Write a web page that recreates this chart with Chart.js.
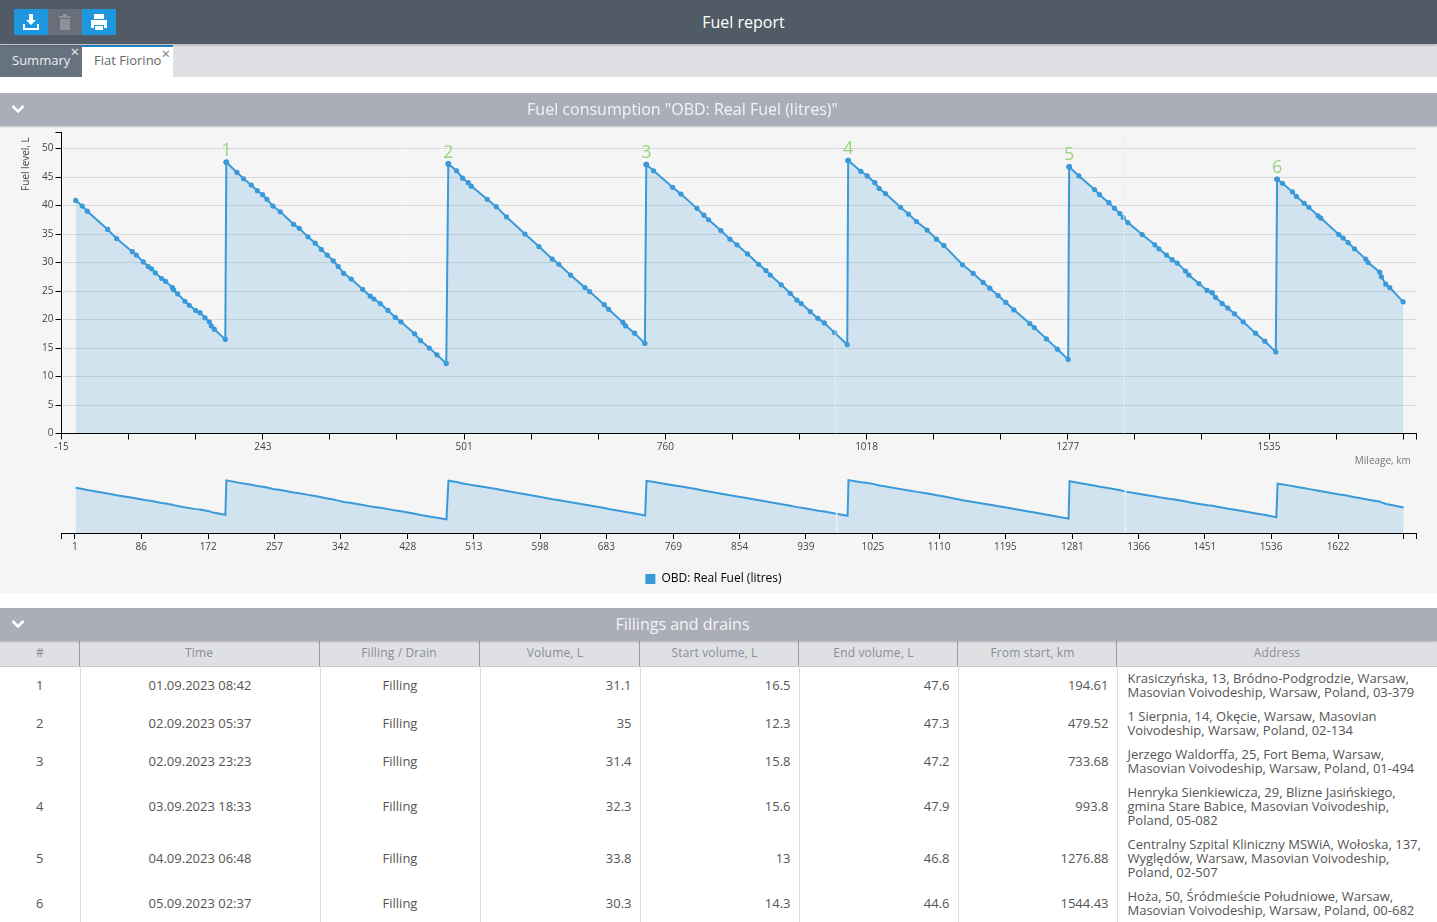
<!DOCTYPE html>
<html>
<head>
<meta charset="utf-8">
<title>Fuel report</title>
<script src="https://cdn.jsdelivr.net/npm/chart.js@4/dist/chart.umd.min.js"></script>
<style>
  html, body { margin: 0; padding: 0; width: 1437px; height: 922px; overflow: hidden; background: #fff; font-family: "Open Sans", sans-serif; }
  .topbar { position: absolute; left: 0; top: 0; width: 1437px; height: 44px; box-sizing: border-box; padding-left: 50px; background: #505b66; color: #fff; font-size: 16px; line-height: 44px; text-align: center; box-shadow: 0 1px 2px rgba(0,0,0,.35); z-index: 2; }
  .btn { position: absolute; top: 9px; width: 34px; height: 26px; background: #1f97de; }
  .btn svg { position: absolute; left: 8px; top: 4px; }
  .tabs { position: absolute; left: 0; top: 45px; width: 1437px; height: 32px; background: #dfe0e3; }
  .tab { position: absolute; top: 0; height: 32px; font-size: 13px; line-height: 31px; box-sizing: border-box; padding-left: 12px; }
  .tab.off { left: 0; width: 82px; background: #677280; color: #eceef0; }
  .tab.on { left: 82px; width: 91px; background: #fff; color: #666; border-top: 2px solid #1f88cf; line-height: 26px; }
  .tab i { position: absolute; right: 3px; top: -1px; font: 15px/15px "Open Sans", sans-serif; }
  .tab.on i { top: -1px; color: #777; }
  .bar { position: absolute; left: 0; width: 1437px; height: 33px; box-sizing: border-box; padding-right: 72px; background: #abaeb8; color: #f4f4f6; font-size: 16px; line-height: 32px; text-align: center; box-shadow: 0 1px 2px rgba(0,0,0,.2); z-index: 1; }
  .bar svg { position: absolute; left: 11px; top: 11px; }
  .panel { position: absolute; left: 0; top: 126px; width: 1437px; height: 467px; background: #f5f5f5; }
  canvas { position: absolute; left: 0; }
  table { position: absolute; left: 0; top: 640px; width: 1437px; table-layout: fixed; border-collapse: collapse; font-size: 13px; line-height: 14px; color: #555; }
  tr.head { background: #dfe0e3; box-shadow: 0 1px 0 #c9cace; }
  th { position: relative; left: -1px; height: 26px; padding: 0 0 1px; color: #8a8d95; font-weight: 400; font-size: 12px; letter-spacing: .15px; box-sizing: border-box; }
  th::after { content: ''; position: absolute; right: -1px; top: 0; bottom: 0; width: 1px; background: #9a9da6; }
  th.num { padding-right: 8px; }
  th:first-child { padding-left: 2px; }
  th:last-child { left: 0; padding-right: 0; }
  th:last-child::after { display: none; }
  td { padding: 5px 8px; text-align: center; border-right: 1px solid #dcdcdc; white-space: pre-line; }
  td.num { text-align: right; }
  td.addr { text-align: left; padding-left: 10px; padding-right: 4px; border-right: 0; }
</style>
</head>
<body>
<div class="panel"></div>
<div class="topbar">Fuel report
  <div class="btn" style="left:14px"><svg width="18" height="18" viewBox="0 0 18 18" fill="#fff"><path d="M7 1h4v6h3l-5 5-5-5h3z"/><path d="M1 11h2v4h12v-4h2v6H1z"/></svg></div>
  <div class="btn" style="left:48px;background:#686f7a"><svg width="18" height="18" viewBox="0 0 18 18" fill="#8d929a"><path d="M3 3h12v2H3zM7 1h4v2H7zM4 6h10v11H4z"/></svg></div>
  <div class="btn" style="left:82px"><svg width="18" height="18" viewBox="0 0 18 18" fill="#fff"><path d="M4 1h10v5H4zM1 7h16v8h-3v-3H4v3H1zM5 13h8v4H5z"/></svg></div>
</div>
<div class="tabs">
  <div class="tab off">Summary<i>×</i></div>
  <div class="tab on">Fiat Fiorino<i>×</i></div>
</div>
<canvas id="mainChart" style="top:124px;width:1437px;height:343px"></canvas>
<canvas id="overviewChart" style="top:467px;width:1437px;height:128px"></canvas>
<div class="bar" style="top:93px"><svg width="14" height="10" viewBox="0 0 14 10"><path d="M1.5 2 7 7.5 12.5 2" fill="none" stroke="#fff" stroke-width="2.6"/></svg>Fuel consumption "OBD: Real Fuel (litres)"</div>
<table id="fillTable"></table>
<div class="bar" style="top:608px"><svg width="14" height="10" viewBox="0 0 14 10"><path d="M1.5 2 7 7.5 12.5 2" fill="none" stroke="#fff" stroke-width="2.6"/></svg>Fillings and drains</div>

<script>
const seriesName = 'OBD: Real Fuel (litres)';

const mileage = [
  3.2, 11.7, 18.1, 44.3, 55.8, 75.9, 81.1, 90, 96.5, 100.7, 105.4, 113.6, 118.7, 127.3, 129, 134.1, 143.5, 149.1, 157.2, 162.8, 169.2, 174.8, 177.3, 181.2, 195.3,
  196.6, 210.3, 218.8, 228.7, 236.4, 243.2, 248.8, 256.5, 265.9, 283, 290.3, 301.4, 310.8, 318.5, 326.2, 333.9, 340.3, 347.2, 357, 371.6, 381.4, 386.1, 394.3, 404.1, 413.5, 420.8, 438.3, 446, 457.2, 467, 479,
  481.6, 492.3, 500, 507.2, 511.1, 531.6, 543.2, 556.4, 580, 598, 615.1, 623.6, 638.6, 657, 663, 681.8, 687.4, 705.8, 709.2, 720.8, 734,
  735.8, 745.2, 769.6, 780.3, 800.8, 809.8, 815.8, 831.6, 843.2, 852.2, 865.8, 880, 889.4, 895, 909.1, 920.6, 929.2, 934.7, 946.3, 956.1, 964.3, 977.5, 993.8,
  995, 1011.2, 1019.4, 1029.2, 1034.8, 1042.9, 1062.2, 1072.4, 1082.7, 1096.4, 1108.4, 1117.8, 1141.8, 1155.4, 1168.3, 1176.8, 1187.5, 1197.4, 1207.7, 1228.2, 1233.8, 1249.6, 1263.7, 1277.4,
  1278.7, 1291.2, 1311.3, 1317.7, 1329.7, 1336.9, 1343.8, 1348.1, 1354.1, 1372.5, 1388.7, 1393.9, 1403.7, 1411, 1417.4, 1428.1, 1432.4, 1445.2, 1455.9, 1462.3, 1466.6, 1475.2, 1482.4, 1491, 1502.1, 1518, 1529.9, 1544,
  1545.7, 1552.6, 1565.4, 1570.5, 1580.4, 1586.4, 1598.3, 1601.8, 1624.9, 1630.4, 1636.9, 1645, 1659.5, 1662.5, 1677.5, 1679.6, 1685.2, 1690.3, 1707.5
];
const fuelLevel = [
  40.9, 39.9, 39, 35.8, 34.2, 31.9, 31.3, 30.1, 29.3, 28.9, 28.2, 27.2, 26.7, 25.6, 25.2, 24.5, 23.2, 22.5, 21.6, 21.2, 20.3, 19.6, 18.9, 18.3, 16.5,
  47.6, 45.8, 44.7, 43.6, 42.6, 41.9, 41.1, 39.9, 38.9, 36.7, 36, 34.5, 33.4, 32.3, 31.3, 30.3, 29.3, 28.1, 27.1, 25.3, 24.1, 23.6, 22.8, 21.6, 20.4, 19.6, 17.5, 16.3, 15, 13.8, 12.3,
  47.3, 46.1, 44.8, 44, 43.4, 41.1, 39.8, 38, 35, 32.8, 30.6, 29.7, 27.8, 25.6, 24.9, 22.6, 21.8, 19.5, 18.9, 17.6, 15.8,
  47.2, 46.1, 43.2, 42, 39.5, 38.3, 37.5, 35.6, 34.1, 33.1, 31.5, 29.7, 28.6, 27.8, 26.1, 24.6, 23.4, 22.8, 21.4, 20.2, 19.4, 17.7, 15.6,
  47.9, 46, 45.2, 44, 43, 42.1, 39.7, 38.5, 37.2, 35.7, 34.1, 33, 29.6, 28.1, 26.5, 25.5, 24.2, 23, 21.7, 19.3, 18.6, 16.6, 14.8, 13,
  46.8, 45.2, 42.8, 41.9, 40.5, 39.5, 38.6, 37.9, 37, 34.9, 33.1, 32.4, 31.3, 30.5, 29.9, 28.5, 27.8, 26.3, 25.1, 24.7, 23.9, 22.8, 22, 21, 19.6, 17.6, 16.2, 14.3,
  44.6, 43.9, 42.4, 41.6, 40.4, 39.7, 38.2, 37.8, 34.9, 34.3, 33.5, 32.4, 30.6, 30, 28.3, 27.5, 26.2, 25.6, 23.1
];

// refuel peaks, marked and numbered on the main chart
const fillMileage = [196.6, 481.6, 735.8, 995, 1278.7, 1545.7];
const fillPeak = [47.6, 47.3, 47.2, 47.9, 46.8, 44.6];
const fillNumbers = ['1', '2', '3', '4', '5', '6'];

// pale vertical bands across both charts
const bandMileage = [978.6, 1349];

const fuelTicks = [0, 5, 10, 15, 20, 25, 30, 35, 40, 45, 50, 52.9];
const fuelTickLabels = ['0', '5', '10', '15', '20', '25', '30', '35', '40', '45', '50', ''];

const mainTicks = [-15, 71.1, 157.3, 243.4, 329.5, 415.7, 501.8, 587.9, 674, 760.2, 846.3, 932.4, 1018.6, 1104.7, 1190.8, 1277, 1363.1, 1449.2, 1535.3, 1621.5, 1707.6, 1724];
const mainTickLabels = ['-15', '', '', '243', '', '', '501', '', '', '760', '', '', '1018', '', '', '1277', '', '', '1535', '', '', ''];

const overviewTicks = [-16.3, 1, 86, 172, 257, 342, 428, 513, 598, 683, 769, 854, 939, 1025, 1110, 1195, 1281, 1366, 1451, 1536, 1622, 1706, 1722];
const overviewTickLabels = ['', '1', '86', '172', '257', '342', '428', '513', '598', '683', '769', '854', '939', '1025', '1110', '1195', '1281', '1366', '1451', '1536', '1622', '', ''];
// the overview axis counts from 1, the main one from the real odometer start
const overviewShift = 1.3;

const tableHeaders = ['#', 'Time', 'Filling / Drain', 'Volume, L', 'Start volume, L', 'End volume, L', 'From start, km', 'Address'];
const columnWidths = [80, 240, 160, 160, 159, 159, 159, 320];
const fillTimes = ['01.09.2023 08:42', '02.09.2023 05:37', '02.09.2023 23:23', '03.09.2023 18:33', '04.09.2023 06:48', '05.09.2023 02:37'];
const fillVolumes = ['31.1', '35', '31.4', '32.3', '33.8', '30.3'];
const fillStarts = ['16.5', '12.3', '15.8', '15.6', '13', '14.3'];
const fillEnds = ['47.6', '47.3', '47.2', '47.9', '46.8', '44.6'];
const fillFromStart = ['194.61', '479.52', '733.68', '993.8', '1276.88', '1544.43'];
const fillAddresses = [
  'Krasiczyńska, 13, Bródno-Podgrodzie, Warsaw,\nMasovian Voivodeship, Warsaw, Poland, 03-379',
  '1 Sierpnia, 14, Okęcie, Warsaw, Masovian\nVoivodeship, Warsaw, Poland, 02-134',
  'Jerzego Waldorffa, 25, Fort Bema, Warsaw,\nMasovian Voivodeship, Warsaw, Poland, 01-494',
  'Henryka Sienkiewicza, 29, Blizne Jasińskiego,\ngmina Stare Babice, Masovian Voivodeship,\nPoland, 05-082',
  'Centralny Szpital Kliniczny MSWiA, Wołoska, 137,\nWyględów, Warsaw, Masovian Voivodeship,\nPoland, 02-507',
  'Hoża, 50, Śródmieście Południowe, Warsaw,\nMasovian Voivodeship, Warsaw, Poland, 00-682'
];

const lineColor = '#3a9ad9';
const fillColor = 'rgba(58, 154, 217, 0.2)';
const textColor = '#444';
const font = { family: '"Open Sans", sans-serif', size: 10 };

function fixTicks(values) {
  return scale => { scale.ticks = values.map(value => ({ value })); };
}

function labelFrom(labels) {
  return (value, index) => labels[index];
}

const bandPlugin = {
  id: 'bands',
  afterDatasetsDraw(chart, args, opts) {
    const { ctx, chartArea, scales } = chart;
    ctx.save();
    ctx.strokeStyle = opts.color;
    ctx.lineWidth = 2;
    bandMileage.forEach(km => {
      const x = scales.x.getPixelForValue(km);
      ctx.beginPath();
      ctx.moveTo(x, chartArea.top);
      ctx.lineTo(x, chartArea.bottom);
      ctx.stroke();
    });
    ctx.restore();
  }
};

const fillNumberPlugin = {
  id: 'fillNumbers',
  afterDatasetsDraw(chart) {
    const { ctx } = chart;
    const points = chart.getDatasetMeta(1).data;
    ctx.save();
    ctx.fillStyle = '#98d67e';
    ctx.font = '18px "Open Sans", sans-serif';
    ctx.textAlign = 'center';
    ctx.textBaseline = 'bottom';
    points.forEach((point, i) => ctx.fillText(fillNumbers[i], point.x, point.y - 2.5));
    ctx.restore();
  }
};

Chart.defaults.animation = false;
Chart.defaults.responsive = false;
Chart.defaults.devicePixelRatio = 1;

new Chart(document.getElementById('mainChart'), {
  type: 'line',
  data: {
    datasets: [{
      label: seriesName,
      data: mileage.map((km, i) => ({ x: km, y: fuelLevel[i] })),
      borderColor: lineColor,
      backgroundColor: fillColor,
      borderWidth: 2,
      pointRadius: 2.6,
      pointBackgroundColor: lineColor,
      pointBorderWidth: 0,
      fill: 'origin',
      tension: 0
    }, {
      label: 'Fillings',
      data: fillMileage.map((km, i) => ({ x: km, y: fillPeak[i] })),
      showLine: false,
      pointRadius: 2.8,
      pointBackgroundColor: '#1b75b5',
      pointBorderWidth: 0
    }]
  },
  options: {
    layout: { padding: { top: 6, right: 21, bottom: 0, left: 0 } },
    plugins: {
      legend: { display: false },
      tooltip: { enabled: false },
      bands: { color: 'rgba(235, 240, 245, 0.45)' }
    },
    scales: {
      x: {
        type: 'linear',
        min: -15,
        max: 1724,
        afterBuildTicks: fixTicks(mainTicks),
        afterFit: scale => { scale.height = 33.5; },
        border: { color: '#000' },
        grid: { drawOnChartArea: false, tickColor: '#000', tickLength: 6 },
        ticks: { callback: labelFrom(mainTickLabels), color: textColor, font, maxRotation: 0, autoSkip: false, padding: 2 },
        title: { display: true, text: 'Mileage, km\u00a0\u00a0', align: 'end', color: '#777', font, padding: { top: 3, bottom: 0 } }
      },
      y: {
        min: 0,
        max: 52.9,
        afterBuildTicks: fixTicks(fuelTicks),
        afterFit: scale => { scale.width = 61.5; },
        border: { color: '#000' },
        grid: {
          color: ctx => (ctx.tick && ctx.tick.value > 50 ? 'transparent' : '#dadada'),
          tickColor: '#000',
          tickLength: 6
        },
        ticks: { callback: labelFrom(fuelTickLabels), color: textColor, font, autoSkip: false, padding: 2 },
        title: { display: true, text: 'Fuel level, L\u00a0\u00a0', align: 'end', color: textColor, font, padding: { top: 20, bottom: 0 } }
      }
    }
  },
  plugins: [bandPlugin, fillNumberPlugin]
});

new Chart(document.getElementById('overviewChart'), {
  type: 'line',
  data: {
    datasets: [{
      label: seriesName,
      data: mileage.map((km, i) => ({ x: km - overviewShift, y: fuelLevel[i] })),
      borderColor: lineColor,
      backgroundColor: fillColor,
      borderWidth: 2,
      pointRadius: 0,
      fill: 'origin',
      tension: 0
    }]
  },
  options: {
    // left padding keeps the legend centred where the page has it
    layout: { padding: { top: 3, right: 21, bottom: 0, left: 11 } },
    plugins: {
      tooltip: { enabled: false },
      bands: { color: 'rgba(240, 245, 248, 0.7)' },
      legend: {
        position: 'bottom',
        labels: {
          boxWidth: 10,
          boxHeight: 10,
          color: textColor,
          font: { family: font.family, size: 12 },
          padding: 10,
          generateLabels: chart => chart.data.datasets.map(set => ({
            text: set.label, fillStyle: set.borderColor, strokeStyle: set.borderColor, lineWidth: 0
          }))
        }
      }
    },
    scales: {
      x: {
        type: 'linear',
        min: -16.3,
        max: 1722,
        afterBuildTicks: fixTicks(overviewTicks),
        afterFit: scale => { scale.height = 30; },
        border: { color: '#000' },
        grid: { drawOnChartArea: false, tickColor: '#000', tickLength: 6 },
        ticks: { callback: labelFrom(overviewTickLabels), color: textColor, font, maxRotation: 0, autoSkip: false, padding: 2 }
      },
      y: {
        min: 0,
        max: 57,
        afterFit: scale => { scale.width = 50.5; },
        border: { display: false },
        grid: { display: false },
        ticks: { display: false }
      }
    }
  },
  plugins: [bandPlugin]
});

// fillings table
const tableRows = fillTimes.map((time, i) => [
  String(i + 1), time, 'Filling', fillVolumes[i], fillStarts[i], fillEnds[i], fillFromStart[i], fillAddresses[i]
]);
const headHtml = '<colgroup>' + columnWidths.map(w => `<col style="width:${w}px">`).join('') + '</colgroup>' +
  '<tr class="head">' + tableHeaders.map((h, c) => `<th class="${c >= 3 ? 'num' : ''}">${h}</th>`).join('') + '</tr>';
const bodyHtml = tableRows.map(row => '<tr>' + row.map((cell, c) => {
  const cls = c === 7 ? 'addr' : (c >= 3 ? 'num' : '');
  return `<td class="${cls}">${cell}</td>`;
}).join('') + '</tr>').join('');
document.getElementById('fillTable').innerHTML = headHtml + bodyHtml;
</script>
</body>
</html>
